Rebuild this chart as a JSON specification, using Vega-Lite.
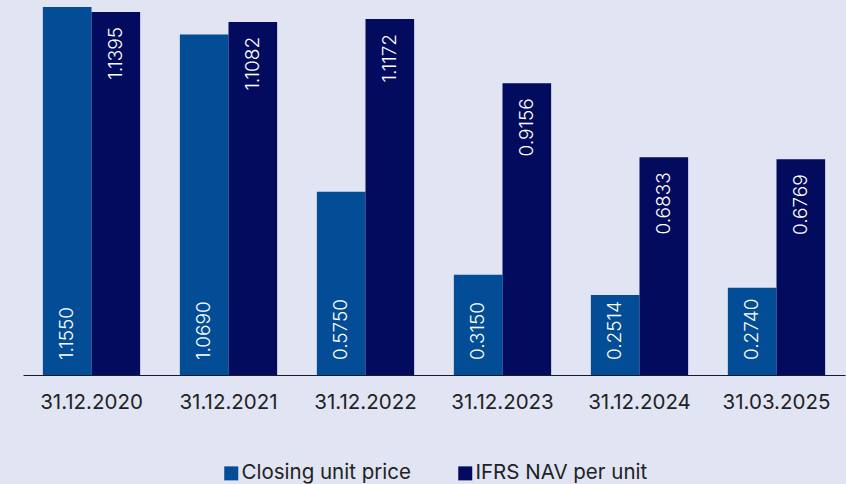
{
  "$schema": "https://vega.github.io/schema/vega-lite/v6.json",
  "width": 822,
  "height": 375,
  "autosize": {"type": "none"},
  "padding": {"left": 23, "top": 0, "right": 1, "bottom": 109},
  "background": "#e1e4f3",
  "config": {
    "view": {"stroke": null},
    "font": "Inter"
  },
  "data": {
    "values": [
      {"date": "31.12.2020", "series": "Closing unit price", "value": 1.155},
      {"date": "31.12.2020", "series": "IFRS NAV per unit", "value": 1.1395},
      {"date": "31.12.2021", "series": "Closing unit price", "value": 1.069},
      {"date": "31.12.2021", "series": "IFRS NAV per unit", "value": 1.1082},
      {"date": "31.12.2022", "series": "Closing unit price", "value": 0.575},
      {"date": "31.12.2022", "series": "IFRS NAV per unit", "value": 1.1172},
      {"date": "31.12.2023", "series": "Closing unit price", "value": 0.315},
      {"date": "31.12.2023", "series": "IFRS NAV per unit", "value": 0.9156},
      {"date": "31.12.2024", "series": "Closing unit price", "value": 0.2514},
      {"date": "31.12.2024", "series": "IFRS NAV per unit", "value": 0.6833},
      {"date": "31.03.2025", "series": "Closing unit price", "value": 0.274},
      {"date": "31.03.2025", "series": "IFRS NAV per unit", "value": 0.6769}
    ]
  },
  "encoding": {
    "x": {
      "field": "date", "type": "nominal", "sort": null,
      "scale": {"paddingInner": 0.29, "paddingOuter": 0.145},
      "axis": {
        "title": null, "labelAngle": 0, "labelFontSize": 20.5, "labelColor": "#222222",
        "labelPadding": 17, "ticks": false, "domainColor": "#1a1a2e", "domainWidth": 1.2,
        "labelFont": "Inter"
      }
    },
    "xOffset": {"field": "series", "type": "nominal", "sort": ["Closing unit price", "IFRS NAV per unit"], "scale": {"paddingInner": 0}}
  },
  "layer": [
    {
      "mark": {"type": "bar"},
      "encoding": {
        "y": {"field": "value", "type": "quantitative", "scale": {"domain": [0, 1.177], "nice": false}, "axis": null},
        "color": {
          "field": "series", "type": "nominal",
          "scale": {"domain": ["Closing unit price", "IFRS NAV per unit"], "range": ["#034d97", "#020b5e"]},
          "legend": {
            "title": null, "orient": "none", "direction": "horizontal",
            "legendX": 198, "legendY": 463,
            "symbolType": "square", "symbolSize": 196, "symbolStrokeWidth": 0,
            "labelFontSize": 20.5, "labelColor": "#222222", "labelOffset": 0,
            "columnPadding": 44, "labelFont": "Inter", "labelLimit": 300
          }
        }
      }
    },
    {
      "transform": [{"filter": "datum.series === 'Closing unit price'"}],
      "mark": {"type": "text", "angle": 270, "align": "left", "baseline": "middle", "dx": 15, "color": "white", "fontSize": 19, "fontWeight": 300},
      "encoding": {
        "y": {"datum": 0, "type": "quantitative"},
        "text": {"field": "value", "type": "quantitative", "format": ".4f"}
      }
    },
    {
      "transform": [{"filter": "datum.series === 'IFRS NAV per unit'"}],
      "mark": {"type": "text", "angle": 270, "align": "right", "baseline": "middle", "dx": -15, "color": "white", "fontSize": 19, "fontWeight": 300},
      "encoding": {
        "y": {"field": "value", "type": "quantitative"},
        "text": {"field": "value", "type": "quantitative", "format": ".4f"}
      }
    }
  ]
}
